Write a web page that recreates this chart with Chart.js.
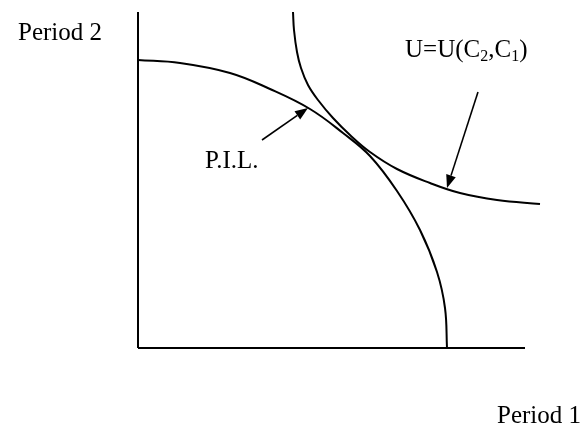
<!DOCTYPE html>
<html>
<head>
<meta charset="utf-8">
<script src="https://cdn.jsdelivr.net/npm/chart.js@4/dist/chart.umd.min.js"></script>
<style>
  html, body { margin: 0; padding: 0; background: #ffffff; }
  #wrap { width: 584px; height: 427px; }
</style>
</head>
<body>
<div id="wrap"><canvas id="c" width="584" height="427"></canvas></div>
<script>
// ---- data (model units: origin at the axes' corner, x = Period 1, y = Period 2) ----
const pilX = [0, 42, 92, 132, 172, 205, 232, 259, 282, 299, 307, 309];
const pilY = [288, 285, 275, 259, 239, 215, 192, 157, 118, 76, 40, 0];

const icX = [155, 156, 159, 163, 170, 180, 195, 212, 232, 259, 292, 322, 359, 402];
const icY = [336, 318, 296, 280, 263, 248, 230, 213, 196, 179, 165, 155, 148, 144];

const axisVX = [0, 0];
const axisVY = [0, 336];
const axisHX = [0, 387];
const axisHY = [0, 0];

// arrows: [tailX, tailY, tipX, tipY]
const arrowPIL = [124, 208, 170, 240];
const arrowU = [340, 256, 309, 160];

// text labels and their anchors (left, baseline) in model units
const labelTexts = ["Period 2", "P.I.L.", "Period 1"];
const labelX = [-120, 67, 359];
const labelY = [308, 180, -75];
const utilityParts = ["U=U(C", "2", ",C", "1", ")"];
const utilityAnchor = [267, 291];

const xMin = -138, xMax = 446, yMin = -79, yMax = 348;

function pts(xs, ys) { return xs.map((x, i) => ({ x: x, y: ys[i] })); }

const ink = '#000000';
const serif = "'Liberation Serif', 'Times New Roman', serif";

const overlay = {
  id: 'overlay',
  afterDatasetsDraw(chart) {
    const ctx = chart.ctx;
    const sx = chart.scales.x, sy = chart.scales.y;
    const px = v => sx.getPixelForValue(v);
    const py = v => sy.getPixelForValue(v);
    ctx.save();
    ctx.fillStyle = ink;
    ctx.strokeStyle = ink;

    // arrows
    [arrowPIL, arrowU].forEach(a => {
      const x0 = px(a[0]), y0 = py(a[1]), x1 = px(a[2]), y1 = py(a[3]);
      const ang = Math.atan2(y1 - y0, x1 - x0);
      const L = 13, W = 5;
      const bx = x1 - L * Math.cos(ang), by = y1 - L * Math.sin(ang);
      ctx.lineWidth = 1.6;
      ctx.beginPath();
      ctx.moveTo(x0, y0);
      ctx.lineTo(bx, by);
      ctx.stroke();
      ctx.beginPath();
      ctx.moveTo(x1, y1);
      ctx.lineTo(bx + W * Math.sin(ang), by - W * Math.cos(ang));
      ctx.lineTo(bx - W * Math.sin(ang), by + W * Math.cos(ang));
      ctx.closePath();
      ctx.fill();
    });

    // labels
    ctx.textBaseline = 'alphabetic';
    ctx.textAlign = 'left';
    ctx.font = '25px ' + serif;
    labelTexts.forEach((t, i) => ctx.fillText(t, px(labelX[i]), py(labelY[i])));

    // utility label with subscripts
    let x = px(utilityAnchor[0]);
    const base = py(utilityAnchor[1]);
    utilityParts.forEach((t, i) => {
      const sub = (i % 2 === 1);
      ctx.font = (sub ? '16px ' : '25px ') + serif;
      ctx.fillText(t, x, base + (sub ? 4 : 0));
      x += ctx.measureText(t).width;
    });
    ctx.restore();
  }
};

const lineDs = (data, extra) => Object.assign({
  data: data,
  showLine: true,
  borderColor: ink,
  backgroundColor: ink,
  borderWidth: 2,
  pointRadius: 0,
  pointHoverRadius: 0,
  fill: false,
  clip: false,
  borderCapStyle: 'butt',
  tension: 0
}, extra || {});

new Chart(document.getElementById('c'), {
  type: 'scatter',
  data: {
    datasets: [
      lineDs(pts(axisVX, axisVY)),
      lineDs(pts(axisHX, axisHY)),
      lineDs(pts(pilX, pilY), { tension: 0.4 }),
      lineDs(pts(icX, icY), { tension: 0.4 })
    ]
  },
  options: {
    responsive: false,
    animation: false,
    devicePixelRatio: 1,
    layout: { padding: 0 },
    plugins: { legend: { display: false }, tooltip: { enabled: false } },
    scales: {
      x: { type: 'linear', min: xMin, max: xMax, display: false },
      y: { type: 'linear', min: yMin, max: yMax, display: false }
    }
  },
  plugins: [overlay]
});
</script>
</body>
</html>
